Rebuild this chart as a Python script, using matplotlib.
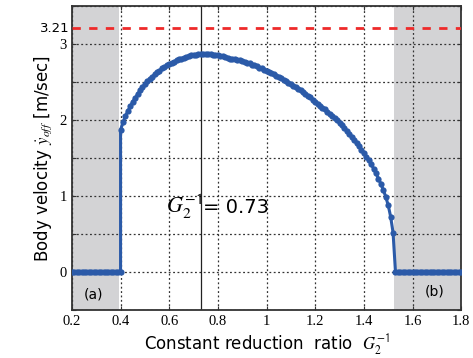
import numpy as np
import matplotlib
matplotlib.use('Agg')
import matplotlib.pyplot as plt

plt.rcParams['mathtext.fontset'] = 'stix'

# body velocity vs. constant reduction ratio
ratio = np.round(np.arange(0.40, 1.5201, 0.01), 2)
velocity = [1.87, 1.97, 2.05, 2.12, 2.18, 2.24, 2.29, 2.34, 2.39, 2.43,
            2.47, 2.51, 2.54, 2.57, 2.60, 2.63, 2.65, 2.68, 2.70, 2.72,
            2.74, 2.755, 2.77, 2.785, 2.80, 2.81, 2.82, 2.83, 2.84, 2.85,
            2.855, 2.86, 2.865, 2.87, 2.87, 2.87, 2.87, 2.865, 2.86, 2.855,
            2.85, 2.845, 2.84, 2.83, 2.82, 2.81, 2.805, 2.80, 2.79, 2.785,
            2.775, 2.765, 2.755, 2.745, 2.73, 2.72, 2.71, 2.69, 2.68, 2.665,
            2.65, 2.635, 2.62, 2.60, 2.585, 2.565, 2.55, 2.53, 2.51, 2.49,
            2.47, 2.45, 2.43, 2.41, 2.39, 2.365, 2.345, 2.32, 2.30, 2.27,
            2.24, 2.215, 2.19, 2.165, 2.14, 2.11, 2.085, 2.055, 2.025, 1.995,
            1.96, 1.93, 1.895, 1.86, 1.82, 1.78, 1.74, 1.70, 1.66, 1.61,
            1.57, 1.52, 1.47, 1.42, 1.36, 1.30, 1.23, 1.16, 1.08, 0.99,
            0.88, 0.73, 0.52]

zero_left = np.round(np.arange(0.20, 0.4001, 0.01), 2)
zero_right = np.round(np.arange(1.53, 1.8001, 0.01), 2)

limit_speed = 3.21
best_ratio = 0.73
xticks = [0.2, 0.4, 0.6, 0.8, 1.0, 1.2, 1.4, 1.6, 1.8]
xticklabels = ['0.2', '0.4', '0.6', '0.8', '1', '1.2', '1.4', '1.6', '1.8']

x_all = np.concatenate([zero_left, ratio, zero_right])
y_all = np.concatenate([np.zeros(len(zero_left)), velocity, np.zeros(len(zero_right))])

fig = plt.figure(figsize=(4.73, 3.58), dpi=100)
ax = fig.add_axes([0.152, 0.134, 0.823, 0.849])

ax.axvspan(0.2, 0.395, color='#d3d3d5', zorder=0, lw=0)
ax.axvspan(1.525, 1.8, color='#d3d3d5', zorder=0, lw=0)

ax.plot(x_all, y_all, color='#2b5aa8', lw=2.2, marker='o', ms=4.5, mew=0, zorder=3)
ax.axhline(limit_speed, color='#ee2a2a', lw=2, ls=(0, (3, 3)), zorder=4)
ax.axvline(best_ratio, color='#222222', lw=0.9, zorder=2)

ax.set_xlim(0.2, 1.8)
ax.set_ylim(-0.5, 3.5)
ax.set_xticks(xticks)
ax.set_xticklabels(xticklabels, family='Liberation Serif', fontsize=10.5)
yt = [-0.5, 0, 0.5, 1, 1.5, 2, 2.5, 3, 3.5]
ax.set_yticks(yt)
ax.set_yticklabels(['', '0', '', '1', '', '2', '', '3', ''],
                   family='Liberation Serif', fontsize=10.5)
ax.grid(True, color='#333333', ls=(0, (1.5, 2)), lw=0.9)
ax.tick_params(direction='in', length=3, top=True, right=True, color='#333333')
ax.text(0.19, limit_speed, '3.21', ha='right', va='center', fontsize=9.5,
        transform=ax.transData, clip_on=False)

for s in ax.spines.values():
    s.set_color('#333333')
    s.set_linewidth(1.3)

ax.set_xlabel('Constant reduction  ratio  $G_2^{\\mathsf{-1}}$', fontsize=12, labelpad=3)
ax.set_ylabel('Body velocity $\\dot{y}_{off}$ [m/sec]', fontsize=12, labelpad=4)

ax.text(0.585, 0.78, '$G_2^{\\mathsf{-1}}$', fontsize=16, ha='left', va='baseline')
ax.text(0.74, 0.78, '= 0.73', fontsize=14, ha='left', va='baseline')
ax.text(0.29, -0.30, '(a)', fontsize=10, ha='center', va='center')
ax.text(1.69, -0.26, '(b)', fontsize=10, ha='center', va='center')

fig.savefig('out.png', dpi=100)
